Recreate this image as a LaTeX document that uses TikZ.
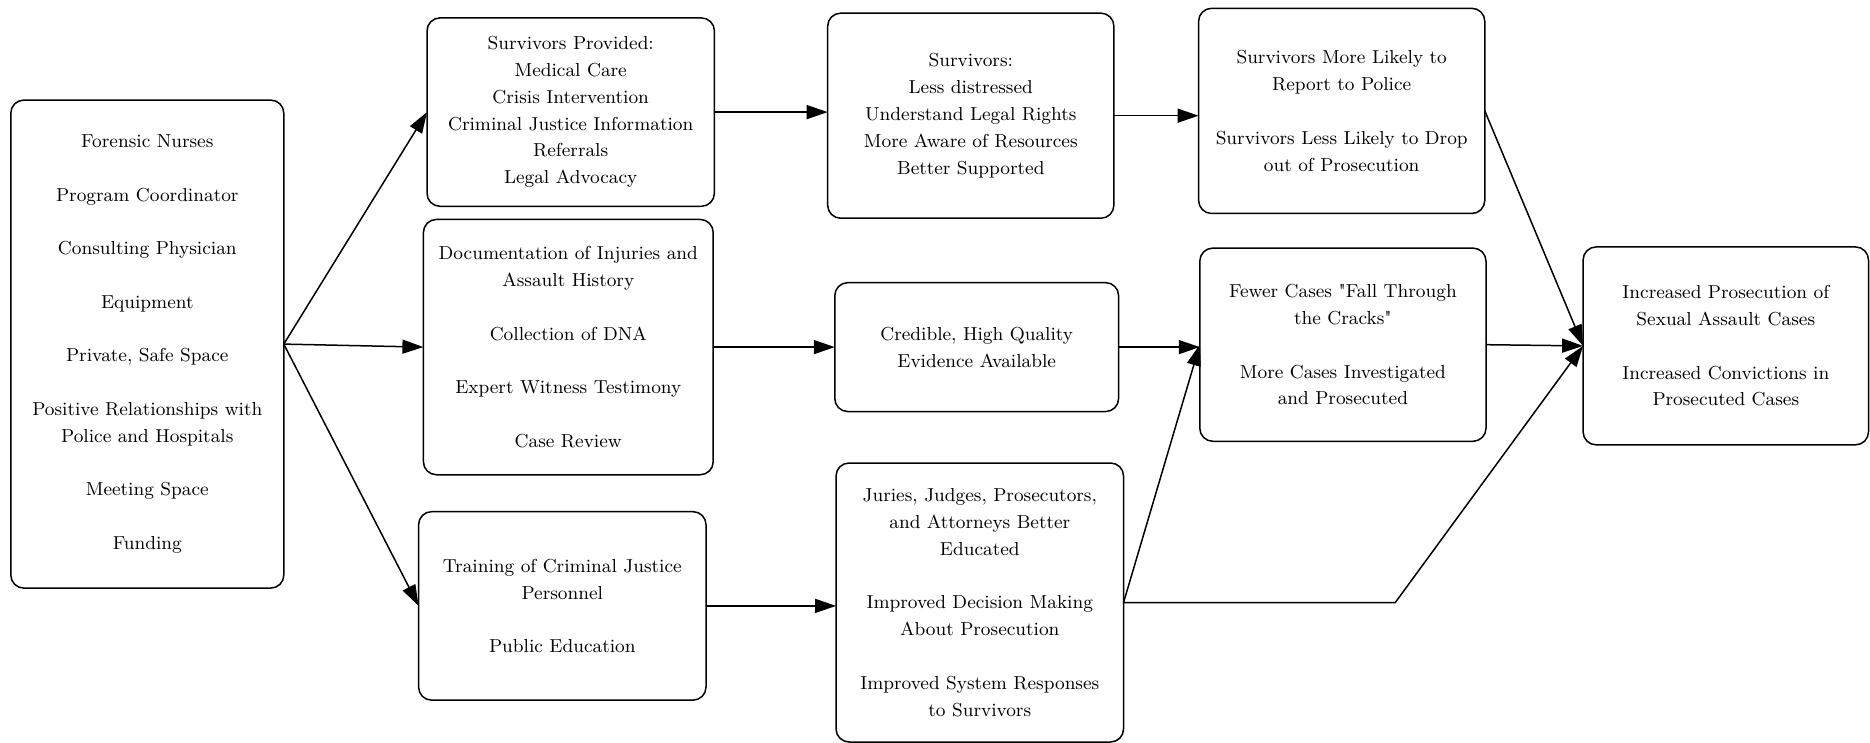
\documentclass[tikz,border=0pt]{standalone}
\usetikzlibrary{arrows.meta}
\tikzset{
  box/.style={draw=black, line width=0.75pt, rounded corners=6.5pt, fill=white,
    inner sep=0pt, outer sep=0pt, align=center,
    font=\fontsize{9.4}{13.4}\selectfont},
  conn/.style={draw=black, line width=0.75pt,
    -{Triangle[length=10.5pt, width=7pt]}}
}
\newcommand{\gapline}{\\[13.4pt]}
\begin{document}
\begin{tikzpicture}[x=0.5pt,y=-0.5pt]
\useasboundingbox (0,0) rectangle (1870,743);

\node[box, minimum width=136.5pt, minimum height=244pt] (A) at (147.3,344.1)
 {Forensic Nurses\gapline Program Coordinator\gapline Consulting Physician\gapline Equipment\gapline Private, Safe Space\gapline Positive Relationships with\\ Police and Hospitals\gapline Meeting Space\gapline Funding};

\node[box, minimum width=143.7pt, minimum height=94.2pt] (B1) at (570.7,112.1)
 {Survivors Provided:\\ Medical Care\\ Crisis Intervention\\ Criminal Justice Information\\ Referrals\\ Legal Advocacy};

\node[box, minimum width=144.9pt, minimum height=127.65pt] (B2) at (568.3,347.1)
 {Documentation of Injuries and\\ Assault History\gapline Collection of DNA\gapline Expert Witness Testimony\gapline Case Review};

\node[box, minimum width=143.7pt, minimum height=94.25pt] (B3) at (562.3,605.9)
 {Training of Criminal Justice\\ Personnel\gapline Public Education};

\node[box, minimum width=143.1pt, minimum height=102.55pt] (C1) at (970.8,115.7)
 {Survivors:\\ Less distressed\\ Understand Legal Rights\\ More Aware of Resources\\ Better Supported};

\node[box, minimum width=141.9pt, minimum height=64.45pt] (C2) at (976.7,347.1)
 {Credible, High Quality\\ Evidence Available};

\node[box, minimum width=143.75pt, minimum height=139.5pt] (C3) at (979.8,602.5)
 {Juries, Judges, Prosecutors,\\ and Attorneys Better\\ Educated\gapline Improved Decision Making\\ About Prosecution\gapline Improved System Responses\\ to Survivors};

\node[box, minimum width=143.1pt, minimum height=102.6pt] (D1) at (1341.7,110.9)
 {Survivors More Likely to\\ Report to Police\gapline Survivors Less Likely to Drop\\ out of Prosecution};

\node[box, minimum width=143.1pt, minimum height=96.6pt] (D2) at (1342.9,344.7)
 {Fewer Cases \textquotedbl Fall Through\\ the Cracks\textquotedbl\gapline More Cases Investigated\\ and Prosecuted};

\node[box, minimum width=142.7pt, minimum height=98.95pt] (E) at (1725.8,345.9)
 {Increased Prosecution of\\ Sexual Assault Cases\gapline Increased Convictions in\\ Prosecuted Cases};

\coordinate (bend) at (1395.3,602.5);

\draw[conn] (A.east) -- (B1.west);
\draw[conn] (A.east) -- (B2.west);
\draw[conn] (A.east) -- (B3.west);

\draw[conn] (B1.east) -- (B1.east -| C1.west);
\draw[conn] (B2.east) -- (B2.east -| C2.west);
\draw[conn] (B3.east) -- (B3.east -| C3.west);

\draw[conn] (C1.east) -- (C1.east -| D1.west);
\draw[conn] (C2.east) -- (C2.east -| D2.west);
\draw[conn] (C3.east) -- (D2.west);

\draw[conn] (D1.east) -- (E.west);
\draw[conn] (D2.east) -- (E.west);
\draw[conn] (C3.east) -- (bend) -- (E.west);
\end{tikzpicture}
\end{document}
